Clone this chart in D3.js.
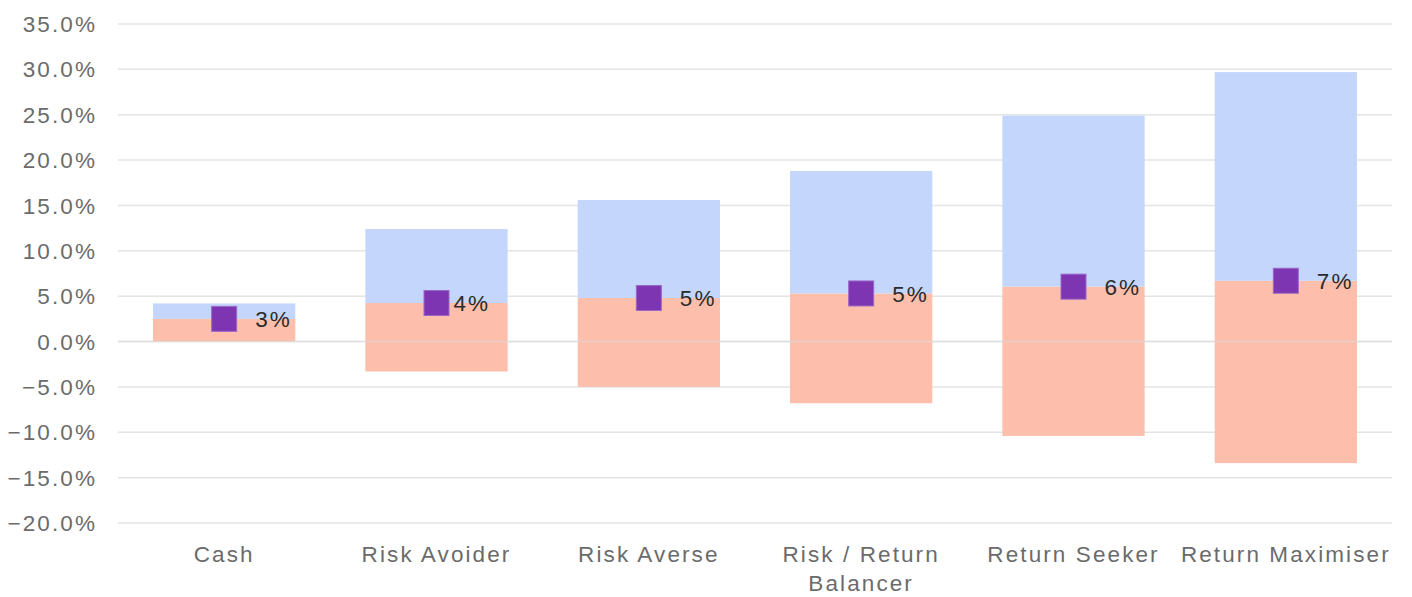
<!DOCTYPE html>
<html>
<head>
<meta charset="utf-8">
<script src="https://cdn.jsdelivr.net/npm/d3@7"></script>
<style>
  body { margin: 0; background: #fff; }
  text { font-family: "Liberation Sans", Arial, sans-serif; }
</style>
</head>
<body>
<svg id="chart" width="1412" height="597"></svg>
<script>
"use strict";

// risk profiles
const profiles = ["Cash", "Risk Avoider", "Risk Averse", "Risk / Return Balancer", "Return Seeker", "Return Maximiser"];

// returns, in percent
const lowReturn = [0.0, -3.3, -5.0, -6.8, -10.4, -13.4];
const expectedReturn = [2.5, 4.25, 4.8, 5.3, 6.05, 6.7];
const highReturn = [4.2, 12.4, 15.6, 18.8, 24.9, 29.7];

const yTicks = [-20, -15, -10, -5, 0, 5, 10, 15, 20, 25, 30, 35];

const svg = d3.select("#chart");
const margin = {top: 24, right: 20, bottom: 74, left: 118};
const width = 1412, height = 597;

const x = d3.scaleBand()
  .domain(profiles)
  .range([margin.left, width - margin.right])
  .paddingInner(0.33)
  .paddingOuter(0.165);

const y = d3.scaleLinear()
  .domain([-20, 35])
  .range([height - margin.bottom, margin.top]);

const rows = profiles.map((p, i) => ({
  name: p, low: lowReturn[i], mid: expectedReturn[i], high: highReturn[i]
}));

// gridlines
svg.append("g")
  .selectAll("line")
  .data(yTicks)
  .join("line")
    .attr("x1", margin.left)
    .attr("x2", width - margin.right)
    .attr("y1", d => y(d))
    .attr("y2", d => y(d))
    .attr("stroke", "#e4e4e4")
    .attr("stroke-width", 1.5);

// y tick labels
svg.append("g")
  .selectAll("text")
  .data(yTicks)
  .join("text")
    .attr("x", 97)
    .attr("y", d => y(d))
    .attr("dy", "0.36em")
    .attr("text-anchor", "end")
    .attr("fill", "#6b6b6b")
    .style("font-size", "22.5px")
    .style("letter-spacing", "2.1px")
    .text(d => d3.format(".1f")(d) + "%");

// lower part: low -> expected
svg.append("g")
  .selectAll("rect")
  .data(rows)
  .join("rect")
    .attr("x", d => x(d.name))
    .attr("width", x.bandwidth())
    .attr("y", d => y(d.mid))
    .attr("height", d => y(d.low) - y(d.mid))
    .attr("fill", "#fdbeab");

// upper part: expected -> high
svg.append("g")
  .selectAll("rect")
  .data(rows)
  .join("rect")
    .attr("x", d => x(d.name))
    .attr("width", x.bandwidth())
    .attr("y", d => y(d.high))
    .attr("height", d => y(d.mid) - y(d.high))
    .attr("fill", "#c4d6fb");

// zero line shows faintly over the bars
svg.append("line")
  .attr("x1", margin.left)
  .attr("x2", width - margin.right)
  .attr("y1", y(0))
  .attr("y2", y(0))
  .attr("stroke", "#d9d9d9")
  .attr("stroke-opacity", 0.6)
  .attr("stroke-width", 1.5);

// expected return markers
const size = 25;
svg.append("g")
  .selectAll("rect")
  .data(rows)
  .join("rect")
    .attr("x", d => x(d.name) + x.bandwidth() / 2 - size / 2)
    .attr("y", d => y(d.mid) - size / 2)
    .attr("width", size)
    .attr("height", size)
    .attr("fill", "#7e35b1")
    .attr("stroke", "#9a68c6")
    .attr("stroke-width", 1);

// labels sit right of the marker (the Risk Avoider one was nudged left)
const labelNudge = {"Risk Avoider": -14};
svg.append("g")
  .selectAll("text")
  .data(rows)
  .join("text")
    .attr("x", d => x(d.name) + x.bandwidth() / 2 + 31 + (labelNudge[d.name] || 0))
    .attr("y", d => y(d.mid))
    .attr("dy", "0.36em")
    .attr("fill", "#2a2a2a")
    .style("font-size", "22.5px")
    .style("letter-spacing", "2.1px")
    .text(d => Math.round(d.mid) + "%");

// category labels, wrapped to the band step
const cat = svg.append("g")
  .selectAll("text")
  .data(profiles)
  .join("text")
    .attr("x", d => x(d) + x.bandwidth() / 2)
    .attr("y", 562)
    .attr("text-anchor", "middle")
    .attr("fill", "#6b6b6b")
    .style("font-size", "22.5px")
    .style("letter-spacing", "2.1px");

cat.each(function(d) {
  const t = d3.select(this);
  const cx = x(d) + x.bandwidth() / 2;
  const words = d.split(" ");
  let line = [];
  let tspan = t.append("tspan").attr("x", cx).attr("dy", 0);
  words.forEach(w => {
    line.push(w);
    tspan.text(line.join(" "));
    if (tspan.node().getComputedTextLength() > x.step() && line.length > 1) {
      line.pop();
      tspan.text(line.join(" "));
      line = [w];
      tspan = t.append("tspan").attr("x", cx).attr("dy", 29).text(w);
    }
  });
});
</script>
</body>
</html>
